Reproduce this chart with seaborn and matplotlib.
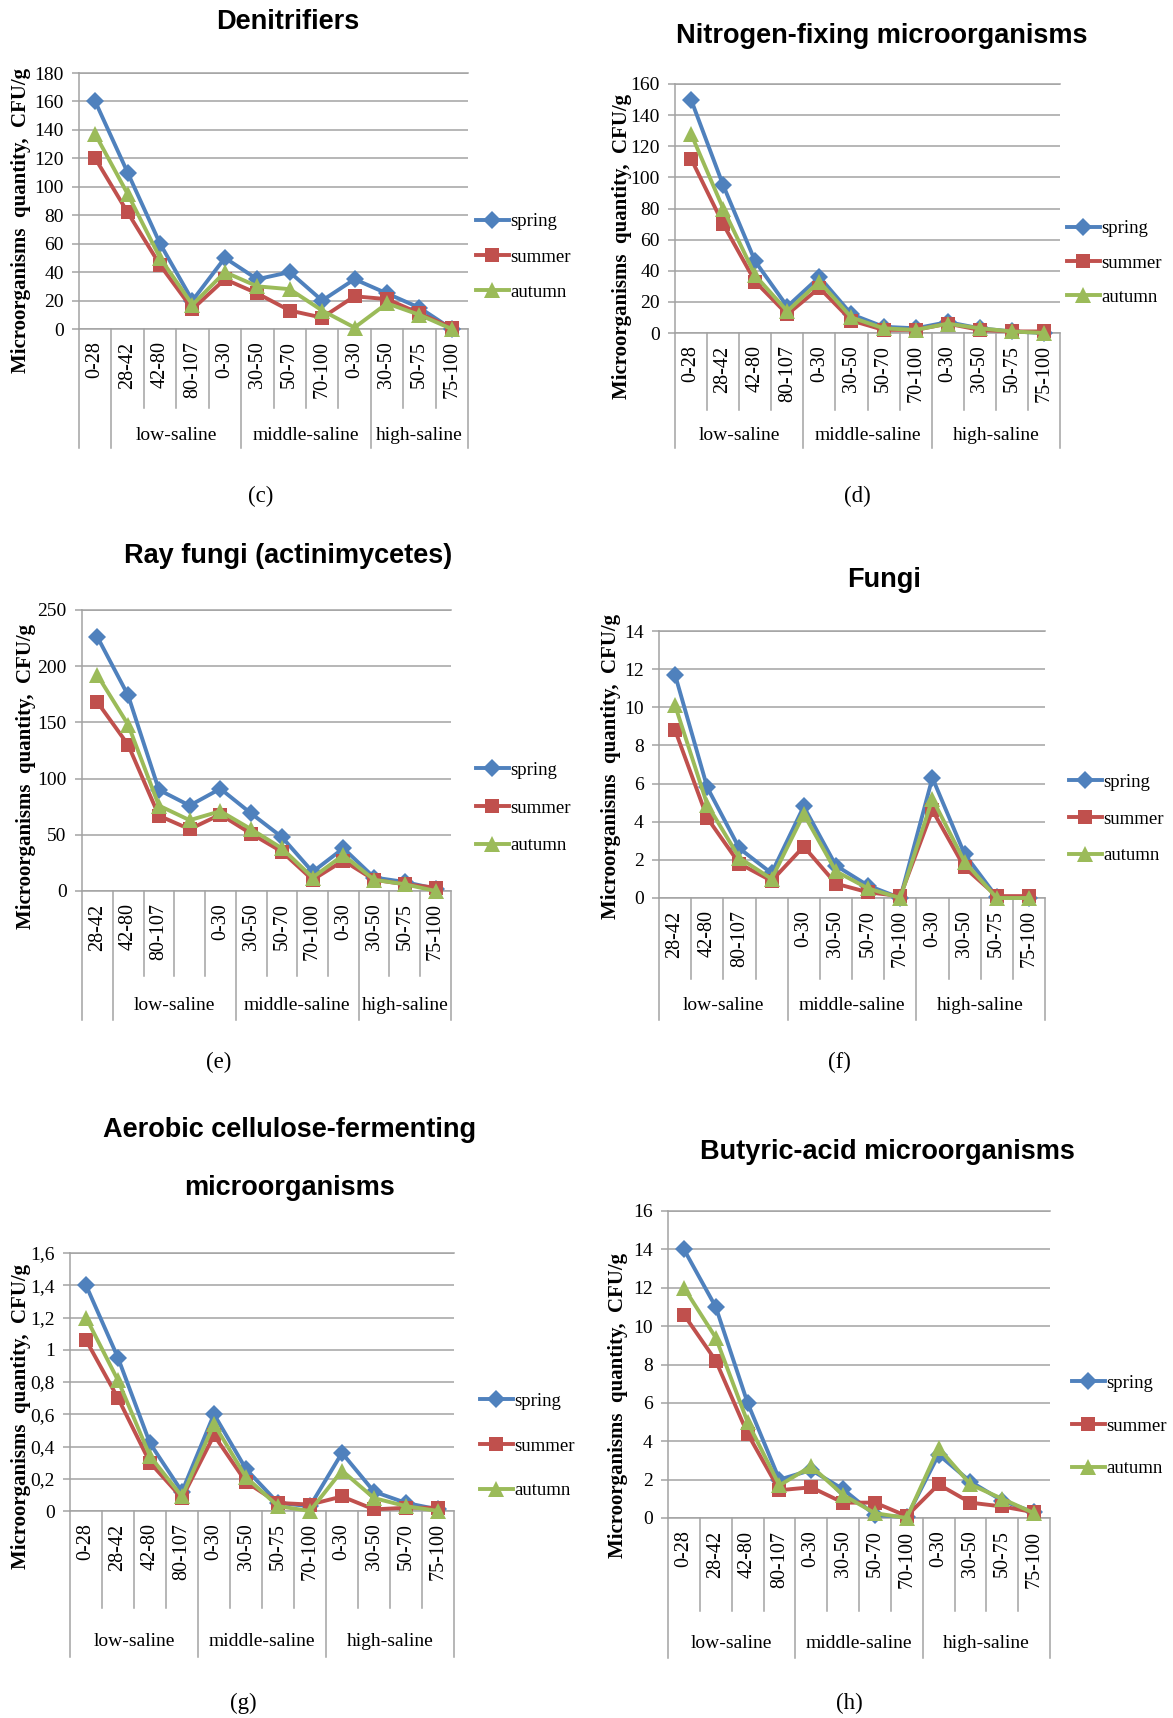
import numpy as np
import seaborn as sns
import matplotlib.pyplot as plt
import matplotlib.transforms as mtransforms
from matplotlib.lines import Line2D

W, H = 1173, 1718

plt.rcParams["font.family"] = ["Liberation Serif", "DejaVu Serif"]

seasons = ["spring", "summer", "autumn"]
season_colors = {"spring": "#4F81BD", "summer": "#C0504D", "autumn": "#9BBB59"}
season_markers = {"spring": "D", "summer": "s", "autumn": "^"}
season_msize = {"spring": 9.5, "summer": 10, "autumn": 11}
groups = ["low-saline", "middle-saline", "high-saline"]
ylabel_text = "Microorganisms  quantity,  CFU/g"

# (c) Denitrifiers
denit_depths = ["0-28", "28-42", "42-80", "80-107", "0-30", "30-50", "50-70", "70-100", "0-30", "30-50", "50-75", "75-100"]
denit_spring = [160, 110, 60, 20, 50, 35, 40, 20, 35, 25, 15, 0]
denit_summer = [120, 82, 45, 14, 35, 25, 13, 8, 23, 21, 11, 1]
denit_autumn = [137, 95, 50, 17, 40, 30, 28, 13, 1, 18, 10, 0]
denit_yticks = [0, 20, 40, 60, 80, 100, 120, 140, 160, 180]

# (d) Nitrogen-fixing
nfix_depths = ["0-28", "28-42", "42-80", "80-107", "0-30", "30-50", "50-70", "70-100", "0-30", "30-50", "50-75", "75-100"]
nfix_spring = [150, 95, 46, 17, 36, 12, 4, 3, 7, 3, 1, 0]
nfix_summer = [112, 70, 33, 12, 29, 8, 2, 2, 6, 2, 1, 1]
nfix_autumn = [128, 80, 37, 14, 33, 10, 3, 2, 6, 3, 1, 0]
nfix_yticks = [0, 20, 40, 60, 80, 100, 120, 140, 160]

# (e) Ray fungi
ray_depths = ["28-42", "42-80", "80-107", "", "0-30", "30-50", "50-70", "70-100", "0-30", "30-50", "50-75", "75-100"]
ray_spring = [226, 174, 90, 76, 91, 69, 48, 17, 38, 12, 8, 2]
ray_summer = [168, 130, 67, 55, 68, 51, 35, 10, 27, 10, 6, 3]
ray_autumn = [192, 148, 76, 63, 71, 55, 38, 12, 32, 10, 6, 0]
ray_yticks = [0, 50, 100, 150, 200, 250]

# (f) Fungi
fungi_depths = ["28-42", "42-80", "80-107", "", "0-30", "30-50", "50-70", "70-100", "0-30", "30-50", "50-75", "75-100"]
fungi_spring = [11.7, 5.8, 2.6, 1.3, 4.8, 1.7, 0.65, 0.0, 6.3, 2.3, 0.05, 0.0]
fungi_summer = [8.8, 4.2, 1.8, 0.9, 2.7, 0.75, 0.3, 0.1, 4.6, 1.6, 0.1, 0.1]
fungi_autumn = [10.1, 4.9, 2.1, 1.0, 4.4, 1.4, 0.5, 0.0, 5.2, 1.9, 0.0, 0.0]
fungi_yticks = [0, 2, 4, 6, 8, 10, 12, 14]

# (g) Aerobic cellulose-fermenting
aer_depths = ["0-28", "28-42", "42-80", "80-107", "0-30", "30-50", "50-75", "70-100", "0-30", "30-50", "50-70", "75-100"]
aer_spring = [1.4, 0.95, 0.42, 0.12, 0.6, 0.26, 0.05, 0.03, 0.36, 0.12, 0.05, 0.01]
aer_summer = [1.06, 0.70, 0.30, 0.08, 0.47, 0.18, 0.05, 0.04, 0.09, 0.01, 0.02, 0.02]
aer_autumn = [1.2, 0.81, 0.34, 0.09, 0.54, 0.21, 0.03, 0.0, 0.25, 0.08, 0.03, 0.0]
aer_yticks = [0, 0.2, 0.4, 0.6, 0.8, 1.0, 1.2, 1.4, 1.6]
aer_yticklabels = ["0", "0,2", "0,4", "0,6", "0,8", "1", "1,2", "1,4", "1,6"]

# (h) Butyric-acid
but_depths = ["0-28", "28-42", "42-80", "80-107", "0-30", "30-50", "50-70", "70-100", "0-30", "30-50", "50-75", "75-100"]
but_spring = [14, 11, 6, 2.0, 2.5, 1.5, 0.15, 0.05, 3.3, 1.9, 0.9, 0.3]
but_summer = [10.6, 8.2, 4.4, 1.45, 1.6, 0.8, 0.8, 0.1, 1.75, 0.8, 0.6, 0.3]
but_autumn = [12.0, 9.4, 5.0, 1.7, 2.7, 1.2, 0.25, 0.0, 3.65, 1.75, 1.0, 0.25]
but_yticks = [0, 2, 4, 6, 8, 10, 12, 14, 16]

shifted_edges = [-0.5, 0.5, 4.5, 8.5, 11.5]
normal_edges = [-0.5, 3.5, 7.5, 11.5]

panels = [
    dict(title=["Denitrifiers"], depths=denit_depths, vals=[denit_spring, denit_summer, denit_autumn],
         yticks=denit_yticks, ylabels=None, edges=shifted_edges, caption="(c)",
         rect=(79, 73, 468, 329), title_xy=[(288, 22)], ylab_xy=(21, 220), leg_xy=(476, 257), leg_pitch=40.5,
         cap_xy=(261, 496), offs=(79, 119, 106)),
    dict(title=["Nitrogen-fixing microorganisms"], depths=nfix_depths, vals=[nfix_spring, nfix_summer, nfix_autumn],
         yticks=nfix_yticks, ylabels=None, edges=normal_edges, caption="(d)",
         rect=(675, 84, 1060, 333), title_xy=[(882, 36)], ylab_xy=(622, 246), leg_xy=(1067, 263), leg_pitch=39.5,
         cap_xy=(857, 496), offs=(77, 115, 102)),
    dict(title=["Ray fungi (actinimycetes)"], depths=ray_depths, vals=[ray_spring, ray_summer, ray_autumn],
         yticks=ray_yticks, ylabels=None, edges=shifted_edges, caption="(e)",
         rect=(82, 610, 451, 891), title_xy=[(288, 556)], ylab_xy=(26, 776), leg_xy=(476, 808), leg_pitch=43,
         cap_xy=(219, 1062), offs=(85, 129, 115)),
    dict(title=["Fungi"], depths=fungi_depths, vals=[fungi_spring, fungi_summer, fungi_autumn],
         yticks=fungi_yticks, ylabels=None, edges=normal_edges, caption="(f)",
         rect=(659, 631, 1045, 898), title_xy=[(884, 580)], ylab_xy=(611, 766), leg_xy=(1069, 819), leg_pitch=42,
         cap_xy=(839, 1062), offs=(81, 122, 108)),
    dict(title=["Aerobic cellulose-fermenting", "microorganisms"], depths=aer_depths,
         vals=[aer_spring, aer_summer, aer_autumn], yticks=aer_yticks, ylabels=aer_yticklabels,
         edges=normal_edges, caption="(g)",
         rect=(70, 1253, 454, 1511), title_xy=[(290, 1130), (290, 1188)], ylab_xy=(21, 1416), leg_xy=(480, 1446),
         leg_pitch=50, cap_xy=(243, 1703), offs=(97, 146, 131)),
    dict(title=["Butyric-acid microorganisms"], depths=but_depths, vals=[but_spring, but_summer, but_autumn],
         yticks=but_yticks, ylabels=None, edges=normal_edges, caption="(h)",
         rect=(668, 1211, 1050, 1518), title_xy=[(887, 1152)], ylab_xy=(618, 1405), leg_xy=(1072, 1426),
         leg_pitch=48, cap_xy=(849, 1703), offs=(93, 140, 125)),
]

title_family = ["Liberation Sans", "DejaVu Sans"]
grid_col = "#a3a3a3"
leg_fs = 13.5

fig = plt.figure(figsize=(W / 100, H / 100), dpi=100)

for p in panels:
    l, t, r, b = p["rect"]
    hpx = b - t
    ax = fig.add_axes([l / W, 1 - b / H, (r - l) / W, hpx / H])
    pos = np.arange(len(p["depths"]))
    for s, v in zip(seasons, p["vals"]):
        sns.lineplot(x=pos, y=v, ax=ax, color=season_colors[s], marker=season_markers[s],
                     markersize=season_msize[s], markeredgewidth=0, lw=2.8, clip_on=False, zorder=3)
    ax.set_xlim(-0.5, len(pos) - 0.5)
    ax.set_ylim(0, p["yticks"][-1])
    ax.set_yticks(p["yticks"])
    ax.set_yticklabels(p["ylabels"] if p["ylabels"] else [str(v) for v in p["yticks"]])
    ax.set_xticks(pos)
    ax.set_xticklabels(p["depths"], rotation=90)
    ax.yaxis.grid(True, color=grid_col, lw=1.1)
    ax.xaxis.grid(False)
    ax.set_axisbelow(True)
    for side in ["top", "left", "bottom"]:
        ax.spines[side].set_color(grid_col)
        ax.spines[side].set_linewidth(1.1)
    ax.spines["right"].set_visible(False)
    ax.tick_params(axis="y", length=5, color=grid_col, width=1.1, pad=6, labelsize=14)
    ax.tick_params(axis="x", length=0, pad=9, labelsize=14.5)
    ax.set_xlabel("")
    ax.set_ylabel("")

    inner, outer, lab = p["offs"]
    trans = mtransforms.blended_transform_factory(ax.transData, ax.transAxes)
    for k in np.arange(-0.5, len(pos), 1.0):
        ln = outer if k in p["edges"] else inner
        ax.plot([k, k], [0, -ln / hpx], transform=trans, color=grid_col, lw=1.1, clip_on=False)
    e = p["edges"][-4:]
    for i, g in enumerate(groups):
        ax.text((e[i] + e[i + 1]) / 2, -lab / hpx, g, transform=trans, ha="center", va="center", fontsize=14)

    for txt, (tx, ty) in zip(p["title"], p["title_xy"]):
        fig.text(tx / W, 1 - ty / H, txt, ha="center", va="center", fontsize=19.5, fontweight="bold",
                 family=title_family)
    yx, yy = p["ylab_xy"]
    fig.text(yx / W, 1 - yy / H, ylabel_text, rotation=90, ha="center", va="center", fontsize=15,
             fontweight="bold")
    cx, cy = p["cap_xy"]
    fig.text(cx / W, 1 - cy / H, p["caption"], ha="center", va="center", fontsize=16.5)

    handles = [Line2D([], [], color=season_colors[s], marker=season_markers[s], markersize=season_msize[s],
                      markeredgewidth=0, lw=2.8) for s in seasons]
    fs_px = leg_fs * 100 / 72
    lx, ly = p["leg_xy"]
    fig.legend(handles, seasons, loc="center left", bbox_to_anchor=(lx / W, 1 - ly / H), frameon=False,
               borderpad=0, borderaxespad=0, handlelength=1.75, handletextpad=0.1,
               labelspacing=(p["leg_pitch"] - 1.2 * fs_px) / fs_px, prop={"size": leg_fs})

fig.savefig("out.png", dpi=100)
